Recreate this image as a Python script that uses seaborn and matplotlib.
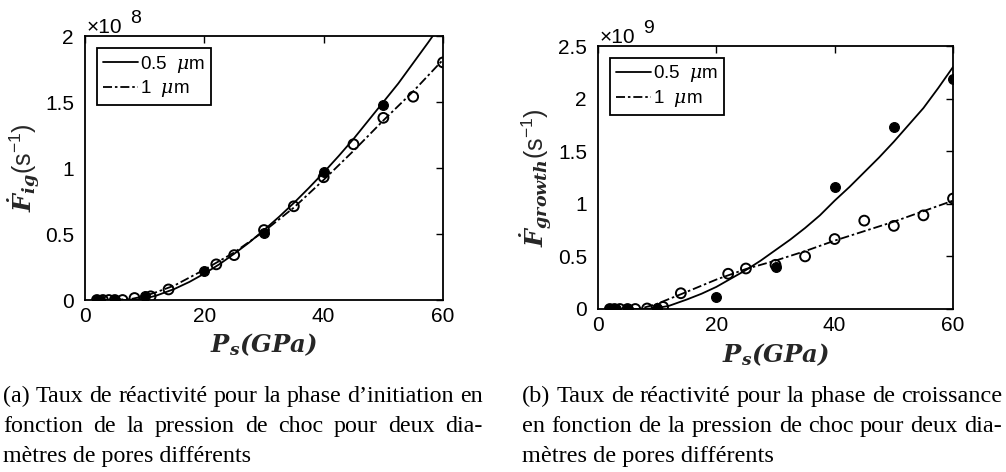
import matplotlib
matplotlib.use("Agg")
import matplotlib.pyplot as plt
import seaborn as sns

# ---------------- data ----------------
# Panel (a): initiation rate, units of 1e8 s^-1
ig_fill_p = [2, 2.5, 5, 10, 20, 30, 40, 50]
ig_fill_r = [0.0, 0.0, 0.0, 0.03, 0.22, 0.51, 0.97, 1.48]
ig_open_p = [2, 3, 4, 5, 6.3, 8.3, 11, 14, 22, 25, 30, 35, 40, 45, 50, 55, 60]
ig_open_r = [0.0, 0.0, 0.0, 0.0, 0.0, 0.015, 0.028, 0.08, 0.27, 0.34, 0.53,
             0.71, 0.93, 1.18, 1.38, 1.54, 1.80]
ig_fit05_p = [2, 5, 8, 10, 12, 15, 17.5, 20, 22.5, 25, 27.5, 30, 32.5, 35,
              37.5, 40, 42.5, 45, 47.5, 50, 52.5, 55, 57.5, 60]
ig_fit05_r = [0.0, 0.0, 0.0, 0.011, 0.034, 0.084, 0.137, 0.20, 0.27, 0.35,
              0.435, 0.53, 0.629, 0.735, 0.848, 0.966, 1.09, 1.22, 1.36,
              1.50, 1.64, 1.795, 1.95, 2.11]
ig_fit1_p = [2, 5, 8, 10, 12, 15, 20, 25, 30, 35, 40, 45, 50, 55, 60]
ig_fit1_r = [0.0, 0.0, 0.01, 0.03, 0.06, 0.11, 0.23, 0.36, 0.52, 0.70, 0.91,
             1.13, 1.36, 1.58, 1.82]

# Panel (b): growth rate, units of 1e9 s^-1
gr_fill_p = [2, 3, 5, 10, 20, 30, 40, 50, 60]
gr_fill_r = [0.0, 0.0, 0.0, 0.01, 0.11, 0.40, 1.16, 1.73, 2.19]
gr_open_p = [2, 2.8, 3.7, 5, 6.3, 8.3, 11, 14, 22, 25, 30, 35, 40, 45, 50, 55, 60]
gr_open_r = [0.0, 0.0, 0.0, 0.0, 0.0, 0.005, 0.02, 0.15, 0.335, 0.385, 0.42,
             0.50, 0.665, 0.84, 0.79, 0.89, 1.05]
gr_fit05_p = [2, 5, 8, 10, 12, 15, 17.5, 20, 22.5, 25, 27.5, 30, 32.5, 35,
              37.5, 40, 42.5, 45, 47.5, 50, 52.5, 55, 57.5, 60]
gr_fit05_r = [0.0, 0.0, 0.0, 0.01, 0.03, 0.09, 0.145, 0.21, 0.29, 0.37, 0.46,
              0.56, 0.66, 0.77, 0.89, 1.03, 1.16, 1.30, 1.44, 1.59, 1.75,
              1.91, 2.10, 2.30]
gr_fit1_p = [2, 5, 7, 10, 14, 20, 25, 30, 35, 40, 45, 50, 55, 60]
gr_fit1_r = [0.0, 0.0, 0.0, 0.05, 0.14, 0.28, 0.38, 0.46, 0.55, 0.65, 0.74,
             0.83, 0.93, 1.03]

x_ticks = [0, 20, 40, 60]
ig_yticks = [0, 0.5, 1, 1.5, 2]
ig_ytick_labels = ["0", "0.5", "1", "1.5", "2"]
gr_yticks = [0, 0.5, 1, 1.5, 2, 2.5]
gr_ytick_labels = ["0", "0.5", "1", "1.5", "2", "2.5"]

legend_labels = [r"0.5  $\mu$m", r"1  $\mu$m"]
ig_ylabel = r"$\mathbf{\dot{F}_{ig}}\mathrm{(s^{-1})}$"
gr_ylabel = r"$\mathbf{\dot{F}_{growth}}\mathrm{(s^{-1})}$"
xlabel = r"$\mathbf{P_s(GPa)}$"
ig_exp = ("×10", "8")
gr_exp = ("×10", "9")

caption_a = ["(a) Taux de réactivité pour la phase d’initiation en",
             "fonction de la pression de choc pour deux dia-",
             "mètres de pores différents"]
caption_b = ["(b) Taux de réactivité pour la phase de croissance",
             "en fonction de la pression de choc pour deux dia-",
             "mètres de pores différents"]

# ---------------- style ----------------
sns.set_theme(style="white")
plt.rcParams.update({
    "font.family": ["Liberation Sans", "DejaVu Sans"],
    "mathtext.fontset": "custom",
    "mathtext.rm": "Liberation Sans",
    "mathtext.it": "DejaVu Serif:italic",
    "mathtext.bf": "DejaVu Serif:italic:bold",
    "axes.edgecolor": "black",
    "axes.linewidth": 1.3,
    "xtick.color": "black",
    "ytick.color": "black",
    "text.color": "black",
})

W, H = 1006, 472
fig = plt.figure(figsize=(W / 100, H / 100), dpi=100)


def fig_rect(x0, y0, x1, y1):
    return [x0 / W, 1 - y1 / H, (x1 - x0) / W, (y1 - y0) / H]


ax_a = fig.add_axes(fig_rect(85, 36, 443, 300))
ax_b = fig.add_axes(fig_rect(598, 46, 953, 309))

dash_dot = (0, (5, 1.6, 1.4, 1.6))


def draw_panel(ax, fill_p, fill_r, open_p, open_r, f05p, f05r, f1p, f1r,
               yticks, ylabels, ymax, ylabel, exp_text):
    sns.lineplot(x=f05p, y=f05r, ax=ax, color="black", lw=1.3,
                 sort=False, label=legend_labels[0])
    sns.lineplot(x=f1p, y=f1r, ax=ax, color="black", lw=1.3, sort=False,
                 linestyle=dash_dot, label=legend_labels[1])
    sns.scatterplot(x=fill_p, y=fill_r, ax=ax, color="black", s=50,
                    marker="o", edgecolor="black", linewidth=0.8, zorder=4)
    sns.scatterplot(x=open_p, y=open_r, ax=ax, s=50, marker="o",
                    edgecolor="black", linewidth=1.4, zorder=4)
    pc = ax.collections[-1]
    pc.set_facecolor("none")
    pc.set_edgecolor("black")
    ax.set_xlim(0, 60)
    ax.set_ylim(0, ymax)
    ax.set_xticks(x_ticks)
    ax.set_xticklabels([str(t) for t in x_ticks])
    ax.set_yticks(yticks)
    ax.set_yticklabels(ylabels)
    ax.tick_params(direction="in", length=5, width=1.0, top=True, right=True,
                   labelsize=15, pad=5)
    ax.tick_params(axis="y", pad=8)
    for s in ax.spines.values():
        s.set_visible(True)
        s.set_color("black")
        s.set_linewidth(1.3)
    ax.set_xlabel(xlabel, fontsize=17.5)
    ax.set_ylabel(ylabel, fontsize=18)
    handles = ax.get_lines()[:2]
    leg = ax.legend(handles=handles, labels=legend_labels, loc="upper left",
                    bbox_to_anchor=(0.034, 0.955), borderaxespad=0,
                    fancybox=False, framealpha=1, edgecolor="black",
                    fontsize=13.5, handlelength=1.9, handletextpad=0.1,
                    borderpad=0.3, labelspacing=0.2)
    leg.get_frame().set_linewidth(1.3)
    # exponent label (×10^n), drawn like MATLAB's
    ax.annotate(exp_text[0], xy=(0, 1), xycoords="axes fraction",
                xytext=(2, 3), textcoords="offset pixels",
                fontsize=15, ha="left", va="baseline")
    ax.annotate(exp_text[1], xy=(0, 1), xycoords="axes fraction",
                xytext=(45, 13), textcoords="offset pixels",
                fontsize=14, ha="left", va="baseline")


draw_panel(ax_a, ig_fill_p, ig_fill_r, ig_open_p, ig_open_r,
           ig_fit05_p, ig_fit05_r, ig_fit1_p, ig_fit1_r,
           ig_yticks, ig_ytick_labels, 2, ig_ylabel, ig_exp)
draw_panel(ax_b, gr_fill_p, gr_fill_r, gr_open_p, gr_open_r,
           gr_fit05_p, gr_fit05_r, gr_fit1_p, gr_fit1_r,
           gr_yticks, gr_ytick_labels, 2.5, gr_ylabel, gr_exp)

ax_a.xaxis.set_label_coords(0.5, -(331 - 300) / 264)
ax_b.xaxis.set_label_coords(0.5, -(341 - 309) / 263)
ax_a.xaxis.label.set_va("top")
ax_b.xaxis.label.set_va("top")
ax_a.yaxis.set_label_coords(-(85 - 42) / 358, 0.5)
ax_b.yaxis.set_label_coords(-(598 - 554) / 355, 0.5)

# ---------------- captions (justified like the source) ----------------
renderer = fig.canvas.get_renderer()
baselines = [402, 432, 462]


def text_width(s, fs):
    t = fig.text(0, 0, s, fontsize=fs, family="Liberation Serif")
    w = t.get_window_extent(renderer).width
    t.remove()
    return w


def caption(lines, x0, width):
    fs = 14 * width / text_width(lines[0], 14)
    for i, line in enumerate(lines):
        y = 1 - baselines[i] / H
        if i == len(lines) - 1:
            fig.text(x0 / W, y, line, fontsize=fs, family="Liberation Serif",
                     ha="left", va="baseline")
            continue
        words = line.split(" ")
        widths = [text_width(wd, fs) for wd in words]
        gap = (width - sum(widths)) / (len(words) - 1)
        x = x0
        for wd, wdw in zip(words, widths):
            fig.text(x / W, y, wd, fontsize=fs, family="Liberation Serif",
                     ha="left", va="baseline")
            x += wdw + gap


caption(caption_a, 3, 480)
caption(caption_b, 522, 480)

fig.savefig("out.png", dpi=100, facecolor="white")
